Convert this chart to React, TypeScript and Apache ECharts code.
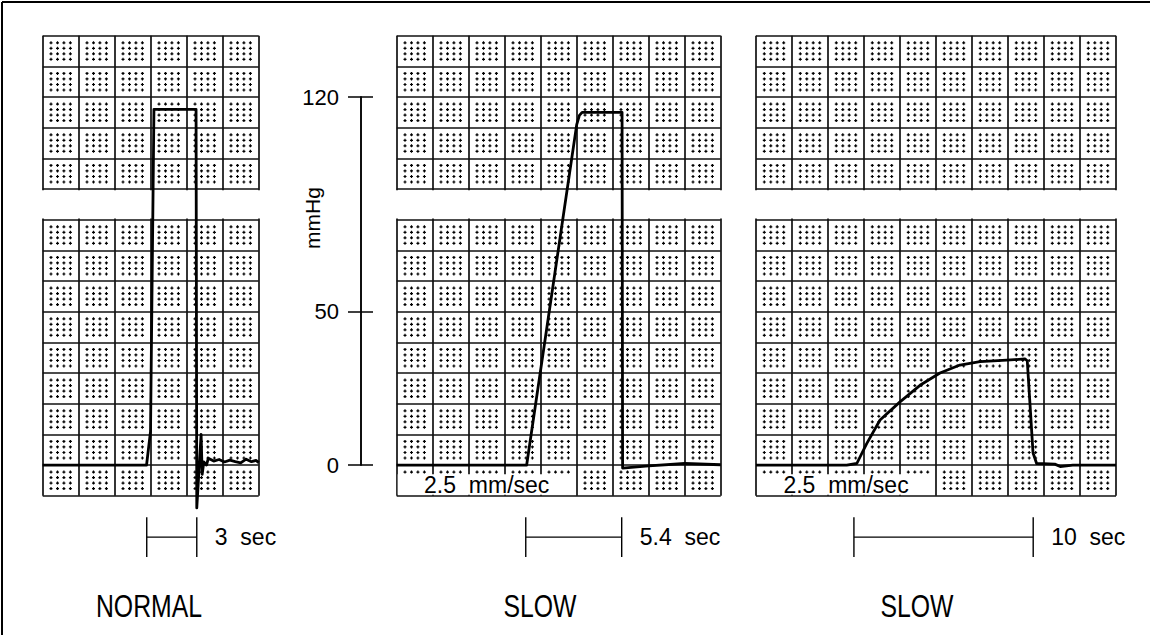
import React, { useEffect, useRef } from 'react';
import * as echarts from 'echarts';

const FONT = '"Liberation Sans", Arial, Helvetica, sans-serif';

// ---------- data ----------
const panelNames = ['NORMAL', 'SLOW', 'SLOW'];
const panelSpanSec = [12, 18, 20]; // 2 s per large cell (2.5 mm/sec)
const panelShowsSpeed = [false, true, true];
const speedLabel = '2.5  mm/sec';

const normalTime = [0, 5.77, 5.99, 6.18, 8.52, 8.56, 8.8, 8.86, 8.95, 9.1, 9.2, 9.5, 9.8, 10.1, 10.4, 10.7, 11.0, 11.3, 11.6, 11.85, 12.0];
const normalPressure = [0, 0, 11, 116, 116, -14, 10, -3, 1, 0, 2.2, 1.3, 1.8, 1.0, 1.6, 1.1, 0.7, 1.9, 1.1, 1.5, 0.8];

const slowATime = [0, 7.22, 10.0, 10.15, 10.3, 12.52, 12.55, 14.0, 16.0, 18.0];
const slowAPressure = [0, 0, 111, 114, 115, 115, -1, -0.3, 0.5, 0.1];

const slowBTime = [0, 5.04, 5.6, 6.15, 6.89, 8.0, 9.11, 10.22, 11.33, 12.44, 13.93, 14.94, 15.07, 15.22, 15.39, 15.59, 16.6, 16.9, 17.6, 20.0];
const slowBPressure = [0, 0, 0.5, 7, 14.7, 20.6, 26, 30, 32.6, 33.7, 34.2, 34.6, 34, 20, 4, 0.5, 0.3, -0.5, 0, 0];

const traceTimes = [normalTime, slowATime, slowBTime];
const tracePressures = [normalPressure, slowAPressure, slowBPressure];

const scaleBarStart = [5.78, 7.17, 5.44];
const scaleBarEnd = [8.56, 12.5, 15.4];
const scaleBarLabels = ['3  sec', '5.4  sec', '10  sec'];

const yTicks = [0, 50, 120];
const yAxisTitle = 'mmHg';

// ---------- layout constants ----------
const Y_MIN = -10;
const Y_MAX = 140;
const GAP_LOW = 80;
const GAP_HIGH = 90;
const CELL_SEC = 2;
const CELL_MMHG = 10;
const PX_PER_SEC = 18;
const PX_PER_MMHG = 460 / 150;
const GRID_TOP = 35.7;
const panelLeft = [42.7, 396.7, 756];
const DOT_FRAC = [0.23, 0.41, 0.59, 0.77];
const SPEED_BOX_TOP = -3;
const SPEED_BOX_CELLS = 5;
const BAR_Y = -23.5;
const BAR_HALF = 6.5;
const INK = '#000';

function buildOption() {
  const grids: any[] = [];
  const xAxes: any[] = [];
  const yAxes: any[] = [];
  const series: any[] = [];

  panelSpanSec.forEach((span, i) => {
    grids.push({
      left: panelLeft[i],
      top: GRID_TOP,
      width: span * PX_PER_SEC,
      height: (Y_MAX - Y_MIN) * PX_PER_MMHG,
      containLabel: false,
    });
    xAxes.push({
      type: 'value', gridIndex: i, min: 0, max: span, interval: CELL_SEC,
      axisLine: { show: false }, axisTick: { show: false }, axisLabel: { show: false },
      splitLine: { show: true, lineStyle: { color: '#111', width: 1.7 } },
    });
    yAxes.push({
      type: 'value', gridIndex: i, min: Y_MIN, max: Y_MAX, interval: CELL_MMHG,
      axisLine: { show: false }, axisTick: { show: false }, axisLabel: { show: false },
      splitLine: { show: true, lineStyle: { color: '#111', width: 1.7 } },
    });

    // dotted minor grid
    series.push({
      type: 'custom', xAxisIndex: i, yAxisIndex: i, z: 1, silent: true,
      data: [[0, 0]],
      renderItem: (_p: any, api: any) => {
        let d = '';
        for (let c = 0; c < span; c += CELL_SEC) {
          for (let r = Y_MIN; r < Y_MAX; r += CELL_MMHG) {
            if (r === GAP_LOW) continue;
            for (const fx of DOT_FRAC) {
              for (const fy of DOT_FRAC) {
                const pt = api.coord([c + fx * CELL_SEC, r + CELL_MMHG - fy * CELL_MMHG]);
                const x = pt[0];
                const y = pt[1];
                d += `M${(x - 1.5).toFixed(1)} ${(y - 0.6).toFixed(1)}h3v1.2h-3z`;
                d += `M${(x - 0.6).toFixed(1)} ${(y - 1.5).toFixed(1)}h1.2v3h-1.2z`;
              }
            }
          }
        }
        return { type: 'path', shape: { pathData: d }, style: { fill: '#000' } };
      },
    });

    // gap cover + speed label box
    series.push({
      type: 'custom', xAxisIndex: i, yAxisIndex: i, z: 2, silent: true,
      data: [[0, 0]],
      renderItem: (_p: any, api: any) => {
        const a = api.coord([0, GAP_HIGH]);
        const b = api.coord([span, GAP_LOW]);
        const children: any[] = [
          { type: 'rect', shape: { x: a[0] - 4, y: a[1] + 1.2, width: b[0] - a[0] + 8, height: b[1] - a[1] - 2.4 }, style: { fill: '#fff' } },
        ];
        if (panelShowsSpeed[i]) {
          const p0 = api.coord([0, SPEED_BOX_TOP]);
          const p1 = api.coord([SPEED_BOX_CELLS * CELL_SEC, Y_MIN]);
          children.push({ type: 'rect', shape: { x: p0[0] + 1, y: p0[1], width: p1[0] - p0[0] - 2, height: p1[1] - p0[1] - 1 }, style: { fill: '#fff' } });
          children.push({
            type: 'text', x: (p0[0] + p1[0]) / 2, y: (p0[1] + p1[1]) / 2 + 0.5,
            style: { text: speedLabel, font: `23px ${FONT}`, fill: '#000', align: 'center', verticalAlign: 'middle', textAlign: 'center', textVerticalAlign: 'middle' },
          });
        }
        return { type: 'group', children };
      },
    });

    // pressure trace
    series.push({
      type: 'line', xAxisIndex: i, yAxisIndex: i, z: 3,
      data: traceTimes[i].map((t, k) => [t, tracePressures[i][k]]),
      showSymbol: false, symbol: 'none', clip: false,
      smooth: false,
      lineStyle: { color: '#000', width: 2.8, join: 'round' },
      silent: true,
    });

    // time scale bar
    series.push({
      type: 'custom', xAxisIndex: i, yAxisIndex: i, z: 3, silent: true,
      data: [[scaleBarStart[i], scaleBarEnd[i]]],
      renderItem: (_p: any, api: any) => {
        const s = api.coord([scaleBarStart[i], BAR_Y]);
        const e = api.coord([scaleBarEnd[i], BAR_Y]);
        const top = api.coord([scaleBarStart[i], BAR_Y + BAR_HALF])[1];
        const bot = api.coord([scaleBarStart[i], BAR_Y - BAR_HALF])[1];
        const ls = { stroke: INK, lineWidth: 1.4 };
        return {
          type: 'group',
          children: [
            { type: 'line', shape: { x1: s[0], y1: s[1], x2: e[0], y2: e[1] }, style: ls },
            { type: 'line', shape: { x1: s[0], y1: top, x2: s[0], y2: bot }, style: ls },
            { type: 'line', shape: { x1: e[0], y1: top, x2: e[0], y2: bot }, style: ls },
            {
              type: 'text', x: e[0] + 18, y: e[1],
              style: { text: scaleBarLabels[i], font: `23px ${FONT}`, fill: '#000', align: 'left', verticalAlign: 'middle', textAlign: 'left', textVerticalAlign: 'middle' },
            },
          ],
        };
      },
    });
  });

  // pressure scale axis
  const axTop = GRID_TOP + (Y_MAX - yTicks[2]) * PX_PER_MMHG;
  grids.push({ left: 361, top: axTop, width: 20, height: yTicks[2] * PX_PER_MMHG, containLabel: false });
  xAxes.push({ type: 'value', gridIndex: 3, show: false, min: 0, max: 1 });
  const axLine = { show: true, lineStyle: { color: INK, width: 1.5 } };
  yAxes.push({
    type: 'value', gridIndex: 3, min: 0, max: yTicks[2], position: 'left',
    axisLine: axLine,
    axisTick: { show: true, customValues: yTicks, length: 13, inside: false, lineStyle: { color: INK, width: 1.5 } },
    axisLabel: { show: true, customValues: yTicks, fontSize: 22, fontFamily: FONT, color: '#000', margin: 22 },
    splitLine: { show: false },
  });
  yAxes.push({
    type: 'value', gridIndex: 3, min: 0, max: yTicks[2], position: 'left',
    axisLine: axLine,
    axisTick: { show: true, customValues: yTicks, length: 12, inside: true, lineStyle: { color: INK, width: 1.5 } },
    axisLabel: { show: false },
    splitLine: { show: false },
  });

  const labelCenters = [149, 540, 917];
  const graphic: any[] = [
    { type: 'line', shape: { x1: 2, y1: 2, x2: 1150, y2: 2 }, style: { stroke: '#000', lineWidth: 2 } },
    { type: 'line', shape: { x1: 2, y1: 2, x2: 2, y2: 635 }, style: { stroke: '#000', lineWidth: 2 } },
    {
      type: 'text', x: 312, y: 218, rotation: Math.PI / 2,
      style: { text: yAxisTitle, font: `21px ${FONT}`, fill: '#000', textAlign: 'center', textVerticalAlign: 'middle', align: 'center', verticalAlign: 'middle' },
    },
    ...panelNames.map((name, i) => ({
      type: 'text', x: labelCenters[i], y: 607, scaleX: 0.8,
      style: { text: name, font: `31px ${FONT}`, fill: '#000', textAlign: 'center', textVerticalAlign: 'middle', align: 'center', verticalAlign: 'middle' },
    })),
  ];

  return {
    animation: false,
    backgroundColor: '#fff',
    grid: grids,
    xAxis: xAxes,
    yAxis: yAxes,
    series,
    graphic,
  };
}

export default function App() {
  const ref = useRef<HTMLDivElement>(null);
  useEffect(() => {
    if (!ref.current) return;
    const chart = echarts.init(ref.current, null, { renderer: 'svg' });
    chart.setOption(buildOption() as any);
    return () => chart.dispose();
  }, []);
  return (
    <div
      ref={ref}
      style={{ position: 'fixed', left: 0, top: 0, width: 1150, height: 635, background: '#fff' }}
    />
  );
}
